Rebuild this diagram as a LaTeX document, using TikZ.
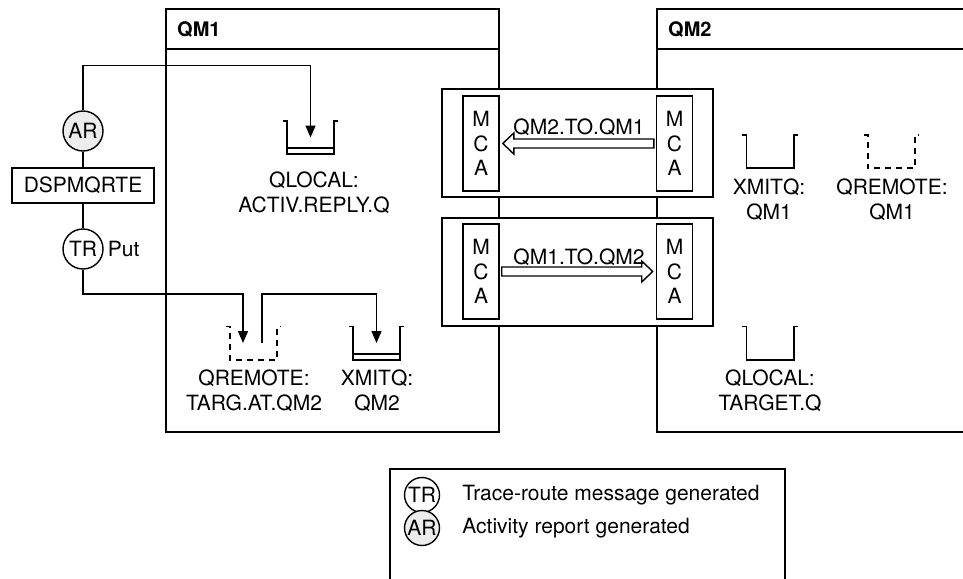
\documentclass[tikz,border=0pt]{standalone}
\usepackage{fontspec}
\setmainfont{TeX Gyre Heros}
\usepackage{tikz}
\usetikzlibrary{positioning,arrows.meta}

\begin{document}
\begin{tikzpicture}[x=1pt, y=-1pt,
    every node/.style={font=\fontsize{21}{25}\selectfont, inner sep=0pt},
    qmbox/.style={draw, line width=1.7pt},
    qmtitle/.style={anchor=west, font=\fontsize{20}{25}\selectfont\bfseries},
    chanbox/.style={draw, fill=white, line width=1.7pt, minimum width=271pt, minimum height=108pt},
    mca/.style={draw, fill=white, line width=1.4pt, minimum width=36pt, minimum height=95pt, align=center, font=\fontsize{21}{24.5}\selectfont},
    hollow/.style={draw, fill=white, line width=1.4pt, line join=miter},
    queue/.style={minimum width=47pt, minimum height=33pt},
    qline/.style={line width=1.6pt},
    remote/.style={qline, dash pattern=on 6pt off 5pt},
    qlabel/.style={align=center},
    trace/.style={circle, draw, fill=white, line width=1.4pt, minimum size=40pt},
    report/.style={trace, fill=gray!15},
    cmd/.style={draw, line width=1.4pt, minimum width=142pt, minimum height=35pt},
    line/.style={line width=1.4pt},
    flow/.style={line width=1.4pt, -{Triangle[length=12pt,width=10pt]}}
  ]
  \clip (0,0) rectangle (963,578);

  % Queue managers
  \node[qmbox, minimum width=333pt, minimum height=423pt] (qm1) at (332.5,220.5) {};
  \node[qmbox, minimum width=343pt, minimum height=423pt] (qm2) at (828.5,220.5) {};
  \draw[qmbox] (qm1.west |- 0,49) -- (qm1.east |- 0,49);
  \draw[qmbox] (qm2.west |- 0,49) -- (qm2.east |- 0,49);
  \node[qmtitle] at (177,30) {QM1};
  \node[qmtitle] at (668,30) {QM2};

  % Queues
  \node[queue] (activq) at (310.5,137.5) {};
  \node[queue] (remq2) at (253.5,343) {};
  \node[queue] (xmitq2) at (376.5,343) {};
  \node[queue] (xmitq1) at (770,151.5) {};
  \node[queue] (remq1) at (891.5,151.5) {};
  \node[queue] (targq) at (770,343) {};
  \foreach \q in {activq,xmitq2,xmitq1,targq}
    \draw[qline] ([xshift=-4pt]\q.north west) -- (\q.north west) -- (\q.south west)
      -- (\q.south east) -- (\q.north east) -- ([xshift=4pt]\q.north east);
  \foreach \q in {remq2,remq1}
    \draw[remote] ([xshift=-4pt]\q.north west) -- (\q.north west) -- (\q.south west)
      -- (\q.south east) -- (\q.north east) -- ([xshift=4pt]\q.north east);
  \foreach \q in {activq,xmitq2}
    \draw[qline] ([yshift=6pt]\q.south west) -- ([yshift=6pt]\q.south east);

  \node[qlabel] at (314,193) {QLOCAL:\\ACTIV.REPLY.Q};
  \node[qlabel] at (254,391) {QREMOTE:\\TARG.AT.QM2};
  \node[qlabel] at (377,391) {XMITQ:\\QM2};
  \node[qlabel] at (769,200) {XMITQ:\\QM1};
  \node[qlabel] at (892,200) {QREMOTE:\\QM1};
  \node[qlabel] at (770,391) {QLOCAL:\\TARGET.Q};

  % Channels
  \node[chanbox] (chan1) at (577.5,143) {};
  \node[chanbox] (chan2) at (577.5,272) {};
  \node[mca] (mca1l) at (481,143.5) {M\\C\\A};
  \node[mca] (mca1r) at (674.5,143.5) {M\\C\\A};
  \node[mca] (mca2l) at (481,271.5) {M\\C\\A};
  \node[mca] (mca2r) at (674.5,271.5) {M\\C\\A};
  \draw[hollow] ([xshift=-2pt]mca1r.west) ++(0,-4.5) -- ++(-140,0) -- ++(0,-6)
    -- ++(-11,10.5) -- ++(11,10.5) -- ++(0,-6) -- ++(140,0) -- cycle;
  \draw[hollow] ([xshift=2pt]mca2l.east) ++(0,-4.5) -- ++(140,0) -- ++(0,-6)
    -- ++(11,10.5) -- ++(-11,10.5) -- ++(0,-6) -- ++(-140,0) -- cycle;
  \node at (579,127) {QM2.TO.QM1};
  \node at (579,257) {QM1.TO.QM2};

  % Command and messages
  \node[report] (ar) at (83,131) {AR};
  \node[cmd] (dsp) at (83,185.5) {DSPMQRTE};
  \node[trace] (tr) at (83,249) {TR};
  \node[right=4pt of tr] {Put};
  \draw[line] (ar) -- (dsp) -- (tr);
  \draw[flow] (ar) |- ([yshift=72pt]activq.center) -- (activq.center);
  \draw[flow] (tr) |- ([xshift=-10.5pt,yshift=49pt]remq2.center) -- ([xshift=-10.5pt]remq2.center);
  \draw[flow] ([xshift=8.5pt]remq2.center) |- ([yshift=49pt]xmitq2.center) -- (xmitq2.center);

  % Legend
  \node[qmbox, minimum width=395pt, minimum height=140pt] (legend) at (587.5,539) {};
  \node[trace, minimum size=35pt] (legtr) at (422,495) {TR};
  \node[report, minimum size=35pt] (legar) at (422,528) {AR};
  \node[right=22pt of legtr] {Trace-route message generated};
  \node[right=22pt of legar] {Activity report generated};
\end{tikzpicture}
\end{document}
